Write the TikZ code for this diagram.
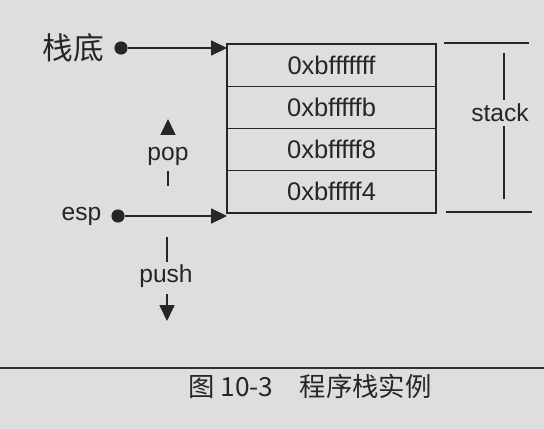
\documentclass[tikz,border=0pt]{standalone}
\usepackage{fontspec}
\setmainfont{Liberation Sans}
\newfontfamily\cjk{Noto Sans CJK SC}
\usetikzlibrary{arrows.meta,positioning}
\tikzset{
  cell/.style ={draw,minimum width=4.18cm,minimum height=0.845cm,
                inner sep=0pt,outer sep=0pt,font=\fontsize{14.5}{16}\selectfont},
  lbl/.style  ={inner sep=2pt,font=\fontsize{14}{16}\selectfont},
  dot/.style  ={circle,fill,inner sep=0pt,minimum size=7.5pt},
  ptr/.style  ={-{Triangle[length=9pt,width=8.5pt]}},
}

\begin{document}
\begin{tikzpicture}[x=0.02cm,y=-0.02cm,line width=0.75pt,draw=black!85,text=black!85]
\fill[black!13] (0,0) rectangle (544,429);
\useasboundingbox (0,0) rectangle (544,429);

% stack cells
\node[cell] (c1) at (331.5,65.1) {0xbfffffff};
\node[cell,below=0pt of c1] (c2) {0xbfffffb};
\node[cell,below=0pt of c2] (c3) {0xbfffff8};
\node[cell,below=0pt of c3] (c4) {0xbfffff4};

% pointers
\node[dot,black!85] (bdot) at (121,48) {};
\node[lbl,left=3pt of bdot,font=\cjk\fontsize{17.5}{19}\selectfont] (base) {栈底};
\node[dot,black!85] (edot) at (118,216) {};
\node[lbl,left=3pt of edot] (esp) {esp};
\draw[ptr] (bdot) -- (bdot -| c1.west);
\draw[ptr] (edot) -- (edot -| c4.west);

% pop / push
\node[lbl] (pop) at (168,156) {pop};
\coordinate (popA) at (168,134);
\coordinate (popB) at (168,119);
\coordinate (popC) at (168,171);
\coordinate (popD) at (168,186);
\draw[ptr] (popA) -- (popB);
\draw (popC) -- (popD);
\node[lbl] (push) at (166,276) {push};
\coordinate (pushA) at (167,237);
\coordinate (pushB) at (167,262);
\coordinate (pushC) at (167,294);
\coordinate (pushD) at (167,321);
\draw (pushA) -- (pushB);
\draw[ptr] (pushC) -- (pushD);

% stack extent
\node[lbl] (stack) at (500,113) {stack};
\coordinate (stT1) at (444,43);
\coordinate (stT2) at (529,43);
\coordinate (stB1) at (446,212);
\coordinate (stB2) at (532,212);
\coordinate (stU) at (504,53);
\coordinate (stD) at (504,199);
\draw (stT1) -- (stT2);
\draw (stB1) -- (stB2);
\draw (stack.north -| stU) -- (stU);
\draw (stack.south -| stD) -- (stD);

% caption
\coordinate (ruleL) at (0,368);
\coordinate (ruleR) at (544,368);
\draw[line width=1.2pt,black!80] (ruleL) -- (ruleR);
\node[font=\cjk\fontsize{15}{17}\selectfont] (cap) at (310,386) {图 10-3\quad 程序栈实例};
\end{tikzpicture}
\end{document}
